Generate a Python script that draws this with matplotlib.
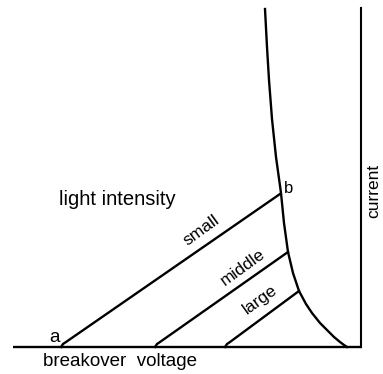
import matplotlib
matplotlib.use('Agg')
import matplotlib.pyplot as plt

# Thyristor-type characteristic sketch: breakover curve and light-intensity branches.
# Units: x = voltage scale, y = current scale (arbitrary, sketch units)

# breakover curve (top to axis)
curve_v = [265, 267, 269, 272, 276, 281, 284, 288, 293, 299, 306, 312, 320, 327, 334, 340, 344, 347]
curve_i = [338, 300, 267, 228, 190, 154, 124, 95, 74, 56, 43, 34, 24, 17, 10, 5, 2, 0]

# light-intensity branches: start on voltage axis, end on breakover curve
branch_names = ['small', 'middle', 'large']
branch_v = [[61, 63, 66, 280], [155, 157, 160, 288], [225, 227, 230, 299]]
branch_i = [[0, 3, 5, 153], [0, 3, 5, 95], [0, 3, 5, 56]]

axis_v = [13, 362]
current_axis_top = 339

fig = plt.figure(figsize=(3.83, 3.74), dpi=100)
ax = fig.add_axes([0, 0, 1, 1])
ax.set_xlim(0, 383)
ax.set_ylim(-27, 347)
ax.axis('off')

lw = 1.7
ax.plot(axis_v, [0, 0], color='black', lw=lw, solid_capstyle='butt')
ax.plot([361, 361], [0, current_axis_top], color='black', lw=1.5)
ax.plot(curve_v, curve_i, color='black', lw=lw, solid_joinstyle='round')
for v, i in zip(branch_v, branch_i):
    ax.plot(v, i, color='black', lw=lw, solid_joinstyle='round')

font = dict(family='Liberation Sans', color='black')
fs = 13.5
label_pos = [(201, 117), (243, 80), (260, 47)]
for name, (x, y) in zip(branch_names, label_pos):
    ax.text(x, y, name, rotation=36, ha='center', va='center', fontsize=fs - 1, **font)
ax.text(117, 148, 'light intensity', ha='center', va='center', fontsize=14.5, **font)
ax.text(289, 159, 'b', ha='center', va='center', fontsize=fs - 1.5, **font)
ax.text(54, 10, 'a', ha='center', va='center', fontsize=fs, **font)
ax.text(120, -15, 'breakover  voltage', ha='center', va='center', fontsize=fs, **font)
ax.text(374, 156, 'current', rotation=90, ha='center', va='center', fontsize=fs - 1, **font)

fig.savefig('out.png', dpi=100)
